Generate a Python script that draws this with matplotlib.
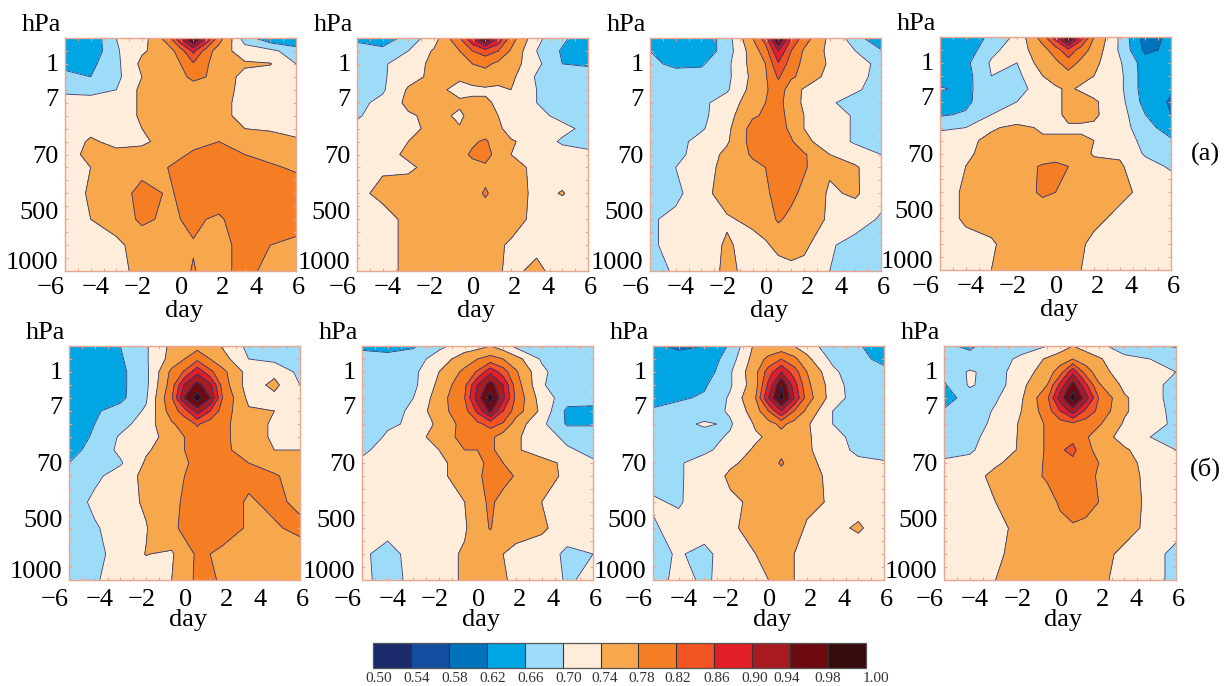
import matplotlib
matplotlib.use("Agg")
import matplotlib.pyplot as plt
from matplotlib.colors import ListedColormap, BoundaryNorm
import numpy as np

plt.rcParams['font.family'] = ['Liberation Serif', 'DejaVu Serif']

# grid positions, the picture has 18 tick steps on each axis
day_index = [0, 2, 4, 6, 8, 9, 10, 11, 12, 14, 16, 18]
level_index = [0, 1, 2, 3, 4, 5, 6, 7, 8, 9, 10, 12, 14, 16, 18]

levels = [0.50, 0.54, 0.58, 0.62, 0.66, 0.70, 0.74, 0.78, 0.82, 0.86, 0.90, 0.94, 0.98, 1.00]
level_labels = ['0.50', '0.54', '0.58', '0.62', '0.66', '0.70', '0.74', '0.78', '0.82', '0.86', '0.90', '0.94', '0.98', '1.00']
band_colors = ['#1b2a6b', '#124da0', '#0072bc', '#00a6e3', '#9ddcf9', '#ffeddc', '#f7a84d',
               '#f57e25', '#f15322', '#e21e26', '#a81b20', '#6e0a0f', '#370a0c']

day_labels = ['\u22126', '\u22124', '\u22122', '0', '2', '4', '6']
hpa_labels = ['1', '7', '70', '500', '1000']

# correlation values (x 1000), rows top to bottom, columns left to right
panel_1 = [
    [640, 630, 700, 720, 800, 900, 1000, 900, 800, 680, 630, 620],
    [640, 630, 695, 735, 760, 800, 870, 800, 760, 720, 710, 680],
    [650, 650, 690, 750, 760, 780, 815, 785, 760, 745, 742, 700],
    [670, 660, 690, 740, 760, 775, 785, 780, 760, 730, 720, 710],
    [695, 685, 700, 750, 760, 760, 770, 760, 755, 730, 720, 720],
    [710, 720, 720, 745, 760, 760, 760, 760, 750, 730, 720, 720],
    [710, 720, 720, 745, 760, 760, 760, 760, 750, 730, 730, 720],
    [715, 730, 725, 740, 755, 760, 760, 760, 755, 740, 735, 730],
    [720, 745, 730, 735, 750, 760, 770, 775, 780, 770, 760, 745],
    [725, 750, 750, 750, 765, 775, 785, 790, 790, 780, 770, 750],
    [720, 740, 750, 760, 780, 790, 800, 800, 800, 800, 785, 775],
    [720, 745, 750, 800, 775, 785, 800, 800, 800, 800, 800, 800],
    [720, 740, 750, 790, 770, 780, 795, 780, 775, 800, 800, 800],
    [720, 730, 735, 750, 760, 760, 775, 770, 770, 790, 780, 770],
    [720, 720, 730, 750, 760, 760, 785, 760, 770, 790, 770, 770],
]
panel_2 = [
    [655, 630, 680, 720, 820, 900, 1000, 900, 800, 710, 670, 630],
    [670, 675, 700, 745, 780, 820, 840, 820, 775, 700, 655, 630],
    [680, 695, 720, 750, 760, 780, 790, 770, 760, 710, 660, 655],
    [685, 695, 725, 750, 745, 750, 760, 760, 750, 695, 680, 680],
    [685, 695, 745, 750, 730, 735, 735, 730, 740, 700, 680, 680],
    [690, 710, 750, 755, 745, 745, 745, 735, 725, 700, 680, 680],
    [695, 720, 735, 750, 735, 750, 750, 740, 720, 710, 690, 680],
    [710, 720, 735, 745, 742, 750, 760, 750, 720, 715, 710, 690],
    [720, 720, 740, 745, 760, 775, 785, 760, 745, 720, 695, 685],
    [725, 730, 745, 755, 770, 785, 800, 760, 740, 720, 715, 710],
    [730, 735, 735, 750, 760, 770, 770, 765, 755, 730, 725, 720],
    [730, 750, 755, 760, 765, 770, 783, 770, 760, 730, 742, 720],
    [720, 725, 750, 760, 765, 765, 765, 760, 755, 730, 720, 720],
    [720, 725, 750, 760, 765, 760, 755, 745, 735, 730, 720, 720],
    [720, 725, 750, 755, 760, 755, 750, 745, 730, 750, 720, 720],
]
panel_3 = [
    [640, 630, 630, 680, 780, 840, 1000, 860, 800, 730, 680, 620],
    [660, 655, 630, 680, 760, 800, 900, 820, 775, 730, 700, 665],
    [665, 655, 655, 690, 755, 780, 855, 800, 770, 735, 715, 690],
    [670, 670, 675, 690, 750, 775, 825, 785, 770, 725, 710, 690],
    [670, 675, 680, 695, 755, 775, 800, 760, 735, 720, 705, 685],
    [670, 675, 690, 720, 760, 780, 795, 755, 735, 705, 685, 680],
    [675, 680, 690, 725, 775, 785, 800, 760, 740, 720, 695, 680],
    [670, 680, 695, 730, 795, 800, 800, 770, 740, 720, 695, 680],
    [670, 685, 715, 735, 795, 800, 800, 785, 750, 720, 695, 680],
    [670, 690, 715, 750, 785, 800, 810, 790, 785, 740, 720, 700],
    [675, 700, 720, 755, 770, 780, 800, 800, 785, 745, 745, 710],
    [670, 690, 725, 760, 765, 775, 790, 790, 770, 735, 745, 715],
    [695, 710, 720, 735, 750, 760, 785, 770, 760, 735, 720, 695],
    [695, 710, 720, 745, 725, 735, 750, 755, 750, 705, 685, 675],
    [670, 710, 715, 750, 725, 720, 725, 730, 725, 700, 670, 680],
]
panel_4 = [
    [630, 630, 670, 710, 800, 880, 1000, 880, 780, 695, 600, 630],
    [630, 635, 690, 720, 765, 800, 850, 800, 765, 695, 610, 630],
    [630, 650, 705, 700, 760, 770, 800, 770, 750, 705, 640, 630],
    [630, 645, 700, 690, 740, 755, 765, 750, 740, 710, 640, 630],
    [665, 650, 685, 685, 720, 735, 745, 735, 725, 710, 640, 625],
    [640, 650, 690, 700, 720, 735, 745, 755, 745, 715, 645, 615],
    [655, 665, 700, 710, 720, 730, 750, 750, 745, 720, 660, 620],
    [695, 700, 735, 750, 735, 735, 735, 735, 735, 720, 675, 640],
    [715, 730, 750, 760, 745, 745, 745, 745, 740, 720, 690, 665],
    [720, 735, 750, 760, 755, 760, 760, 755, 735, 735, 695, 680],
    [720, 740, 755, 760, 785, 790, 780, 765, 755, 745, 715, 695],
    [725, 745, 760, 765, 785, 780, 765, 760, 760, 750, 730, 725],
    [725, 745, 755, 760, 760, 760, 760, 760, 750, 730, 725, 720],
    [720, 730, 735, 760, 760, 760, 755, 745, 730, 725, 720, 720],
    [720, 725, 740, 750, 750, 750, 745, 740, 730, 725, 720, 720],
]
panel_5 = [
    [630, 630, 660, 695, 750, 760, 765, 760, 735, 690, 680, 680],
    [630, 630, 655, 695, 755, 780, 810, 780, 755, 700, 690, 680],
    [630, 630, 650, 690, 790, 825, 890, 830, 790, 725, 730, 690],
    [630, 630, 650, 690, 800, 905, 955, 910, 800, 720, 750, 700],
    [630, 635, 650, 695, 815, 940, 1000, 940, 815, 730, 730, 715],
    [630, 655, 675, 705, 800, 840, 920, 860, 800, 745, 740, 720],
    [640, 660, 685, 720, 775, 795, 825, 800, 790, 755, 735, 720],
    [640, 665, 705, 725, 755, 780, 800, 795, 790, 755, 735, 725],
    [650, 670, 710, 735, 760, 780, 800, 800, 790, 760, 740, 740],
    [660, 675, 695, 745, 760, 775, 790, 790, 790, 780, 760, 755],
    [670, 690, 720, 750, 765, 780, 790, 800, 810, 790, 785, 760],
    [675, 710, 725, 745, 760, 790, 800, 800, 800, 775, 790, 770],
    [680, 695, 720, 738, 770, 790, 800, 800, 800, 775, 775, 790],
    [670, 685, 720, 741, 735, 765, 785, 780, 770, 760, 760, 760],
    [670, 695, 720, 725, 740, 760, 790, 790, 770, 760, 755, 750],
]
panel_6 = [
    [655, 650, 655, 690, 720, 725, 740, 720, 690, 700, 670, 670],
    [670, 670, 680, 720, 760, 780, 795, 780, 755, 695, 670, 670],
    [670, 670, 690, 740, 790, 825, 890, 840, 785, 710, 670, 670],
    [670, 670, 690, 750, 810, 900, 960, 900, 800, 705, 670, 670],
    [670, 670, 700, 760, 820, 920, 1000, 910, 810, 720, 680, 675],
    [670, 680, 710, 765, 805, 870, 950, 860, 800, 730, 650, 650],
    [670, 695, 705, 750, 795, 810, 835, 815, 760, 710, 655, 655],
    [680, 705, 725, 755, 795, 795, 790, 760, 745, 720, 690, 690],
    [695, 710, 720, 740, 780, 780, 790, 760, 745, 720, 705, 690],
    [705, 715, 720, 730, 760, 775, 785, 780, 760, 755, 730, 705],
    [710, 715, 720, 730, 760, 770, 800, 800, 775, 760, 730, 720],
    [720, 720, 725, 730, 740, 760, 790, 760, 760, 740, 725, 720],
    [720, 720, 725, 730, 735, 765, 782, 760, 755, 745, 725, 720],
    [710, 680, 720, 725, 745, 755, 755, 740, 730, 725, 690, 700],
    [710, 685, 710, 725, 745, 750, 750, 745, 730, 725, 695, 710],
]
panel_7 = [
    [625, 615, 620, 665, 750, 750, 750, 740, 720, 675, 665, 630],
    [630, 630, 630, 680, 760, 790, 820, 790, 750, 690, 670, 650],
    [625, 630, 635, 695, 770, 840, 900, 840, 780, 710, 670, 670],
    [630, 635, 655, 695, 765, 870, 980, 880, 790, 720, 675, 670],
    [645, 655, 665, 705, 780, 900, 1000, 900, 800, 720, 680, 670],
    [665, 675, 680, 705, 760, 820, 900, 820, 770, 700, 670, 700],
    [675, 690, 705, 695, 745, 765, 790, 765, 745, 700, 675, 700],
    [675, 685, 685, 705, 735, 745, 765, 750, 745, 715, 685, 675],
    [680, 685, 690, 720, 745, 755, 770, 755, 745, 720, 690, 680],
    [690, 695, 720, 735, 750, 760, 785, 760, 750, 725, 710, 705],
    [685, 695, 720, 745, 755, 760, 765, 760, 755, 730, 725, 720],
    [705, 695, 725, 735, 745, 760, 760, 760, 750, 735, 725, 720],
    [695, 715, 725, 735, 750, 760, 760, 755, 735, 730, 745, 720],
    [685, 705, 685, 730, 740, 745, 750, 740, 730, 720, 720, 720],
    [670, 720, 690, 725, 725, 740, 750, 740, 725, 720, 720, 720],
]
panel_8 = [
    [665, 655, 675, 680, 700, 720, 740, 725, 710, 680, 670, 655],
    [670, 670, 680, 710, 745, 760, 780, 760, 745, 710, 700, 695],
    [670, 705, 685, 720, 760, 800, 890, 800, 760, 715, 710, 700],
    [655, 705, 680, 730, 780, 870, 960, 870, 785, 730, 715, 685],
    [640, 680, 695, 735, 810, 920, 1000, 920, 820, 745, 715, 685],
    [665, 675, 705, 740, 800, 860, 920, 850, 810, 745, 715, 690],
    [670, 680, 710, 745, 785, 800, 810, 800, 785, 735, 710, 695],
    [675, 690, 715, 745, 785, 800, 810, 785, 760, 725, 700, 685],
    [690, 695, 720, 745, 785, 815, 830, 790, 770, 745, 720, 700],
    [705, 710, 735, 755, 785, 795, 810, 800, 780, 750, 730, 720],
    [710, 725, 750, 760, 785, 795, 800, 795, 775, 755, 730, 720],
    [720, 720, 740, 755, 765, 785, 800, 795, 780, 760, 730, 720],
    [720, 725, 735, 745, 760, 770, 775, 770, 765, 755, 730, 720],
    [720, 725, 735, 750, 765, 765, 765, 765, 755, 730, 720, 685],
    [720, 725, 740, 750, 755, 760, 755, 755, 750, 725, 720, 685],
]
panels = [panel_1, panel_2, panel_3, panel_4, panel_5, panel_6, panel_7, panel_8]

W, H = 1227, 686
# left, right, top, bottom of each panel in pixels
boxes = [(65, 296, 38, 271), (357, 588, 38, 271), (650, 881, 38, 271), (940, 1171, 37, 270),
         (69, 300, 346, 580), (362, 593, 346, 580), (653, 884, 346, 580), (944, 1176, 346, 580)]

day_label_pos = [-0.06, 0.134, 0.316, 0.506, 0.682, 0.827, 1.009]
hpa_label_pos = [0.114, 0.266, 0.509, 0.749, 0.964]
frame_color = '#e8a58f'
line_color = '#2b3a7a'
font = 19

cmap = ListedColormap(band_colors)
norm = BoundaryNorm(levels, cmap.N)

fig = plt.figure(figsize=(W / 100, H / 100), dpi=100)

days = -6 + np.array(day_index) * 2 / 3
steps = np.array(level_index)

for n in range(8):
    left, right, top, bottom = boxes[n]
    ax = fig.add_axes([left / W, 1 - bottom / H, (right - left) / W, (bottom - top) / H])
    z = np.array(panels[n]) / 1000
    cf = ax.contourf(days, steps, z, levels=levels, cmap=cmap, norm=norm)
    ax.contour(days, steps, z, levels=levels[:-1], colors=line_color, linewidths=0.6)
    ax.set_xlim(-6, 6)
    ax.set_ylim(18, 0)

    # tick marks on every grid step, labels are placed by hand as in the original
    ax.set_xticks(-6 + np.arange(19) * 2 / 3)
    ax.set_yticks(np.arange(19))
    ax.set_xticklabels([])
    ax.set_yticklabels([])
    ax.tick_params(direction='in', top=True, right=True, length=2.5, width=0.7, color=frame_color)
    for s in ax.spines.values():
        s.set_color(frame_color)
        s.set_linewidth(1.0)

    low = 20 if n >= 4 else 17
    for pos, lab in zip(day_label_pos, day_labels):
        ax.text(pos, -low / (bottom - top), lab, transform=ax.transAxes, ha='center', va='center', fontsize=font)
    for pos, lab in zip(hpa_label_pos, hpa_labels):
        ax.text(-0.028, 1 - pos, lab, transform=ax.transAxes, ha='right', va='center', fontsize=font)
    ax.text(0.515, -40 / (bottom - top), 'day', transform=ax.transAxes, ha='center', va='center', fontsize=font)
    ax.text(-0.103, 1 + 13 / (bottom - top), 'hPa', transform=ax.transAxes, ha='center', va='center', fontsize=font)

fig.text(1205 / W, 1 - 154 / H, '(\u0430)', ha='center', va='center', fontsize=font)
fig.text(1205 / W, 1 - 469 / H, '(\u0431)', ha='center', va='center', fontsize=font)

# colour bar with equal width boxes
cax = fig.add_axes([373 / W, 1 - 668 / H, 493 / W, 25 / H])
cb = fig.colorbar(cf, cax=cax, orientation='horizontal', spacing='uniform', drawedges=True)
cb.set_ticks([])
cb.minorticks_off()
cb.outline.set_edgecolor('#555555')
cb.outline.set_linewidth(0.9)
cb.dividers.set_color('#333333')
cb.dividers.set_linewidth(0.8)
level_label_px = [379, 417, 455, 493, 531, 569, 605, 642, 678, 717, 755, 787, 828, 876]
for px, lab in zip(level_label_px, level_labels):
    fig.text(px / W, 1 - 678 / H, lab, ha='center', va='center', fontsize=11, color='#333333')

fig.savefig('out.png', dpi=100)
